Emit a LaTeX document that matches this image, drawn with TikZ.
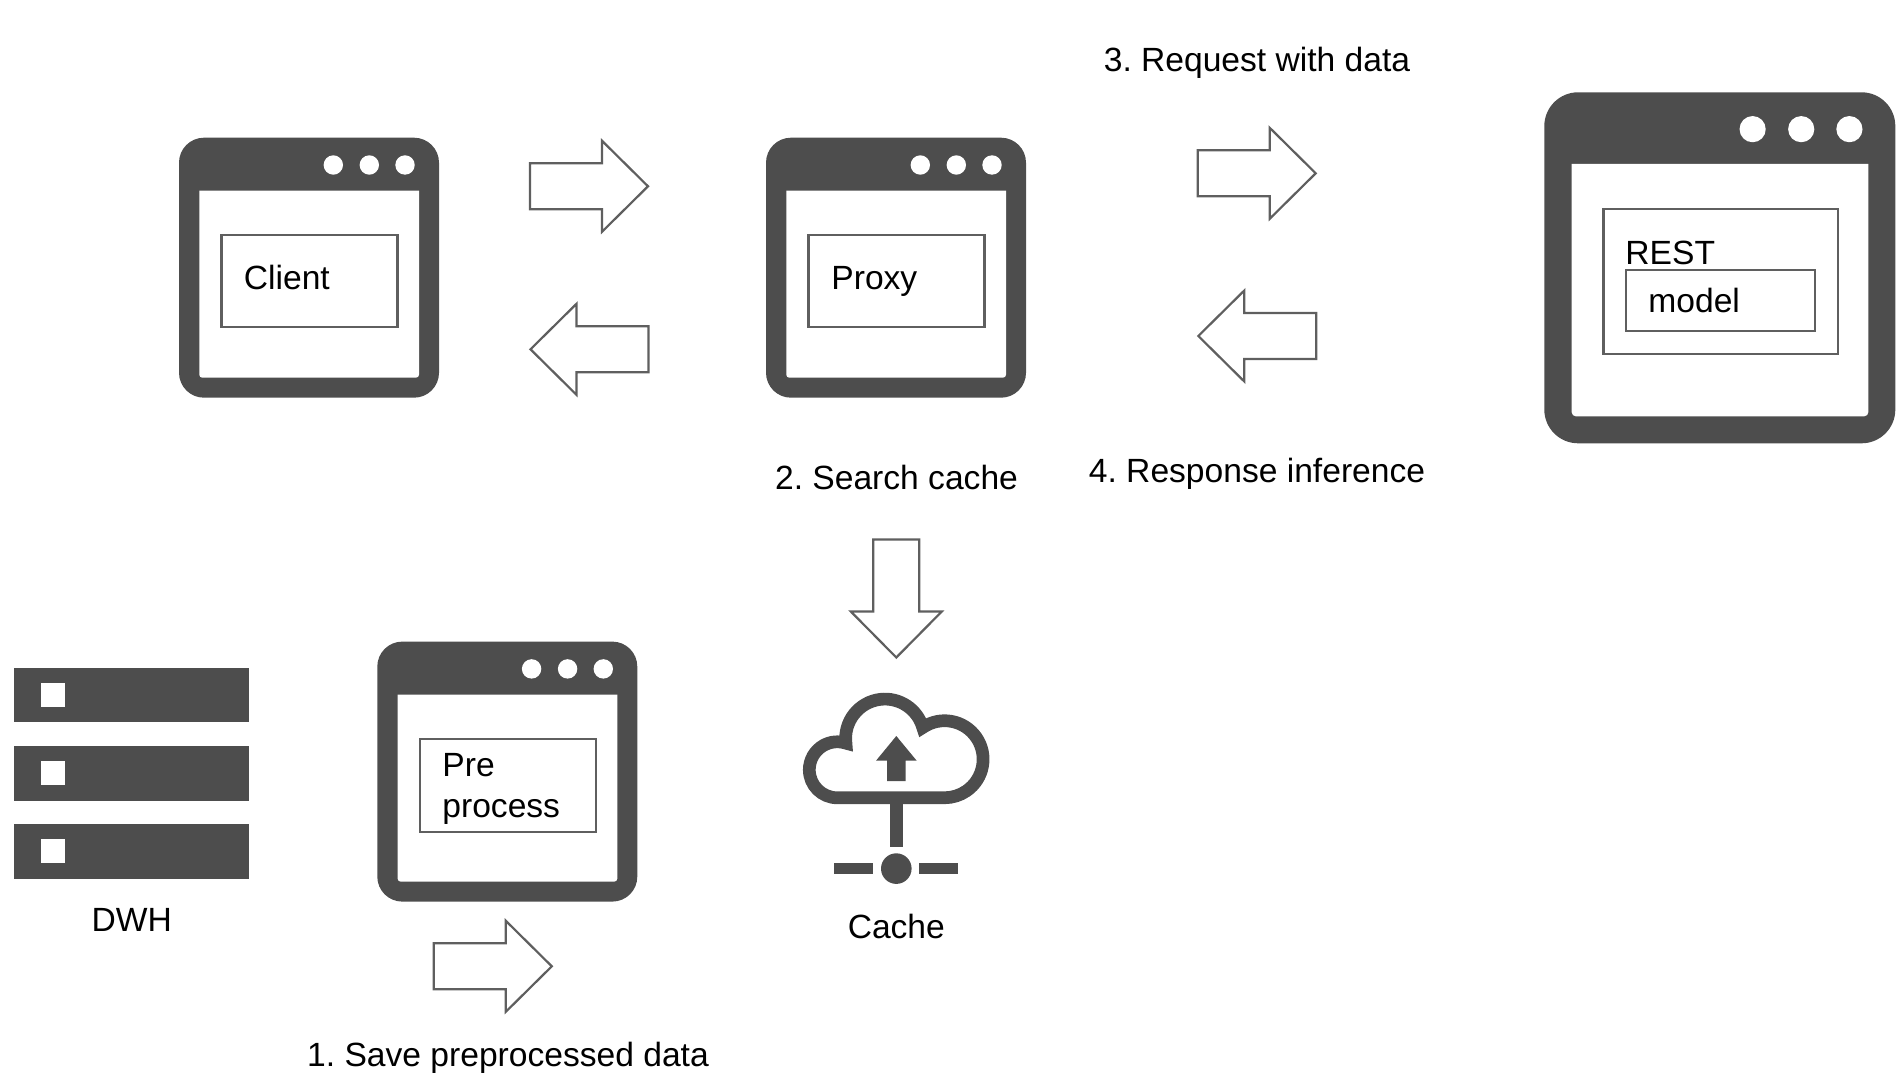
\documentclass[tikz,border=0pt]{standalone}
\usepackage{fontspec}
\setmainfont{Liberation Sans}
\definecolor{icongray}{HTML}{4D4D4D}
\definecolor{linegray}{HTML}{5F5F5F}
\tikzset{
    lbl/.style={inner sep=0pt,font=\fontsize{16.8}{20.5}\selectfont\frenchspacing,text=black},
    framebox/.style={draw=linegray,line width=1.1pt,inner sep=0pt,anchor=north west},
    appwindow/.pic={
        \fill[icongray] (0,25) arc (180:270:25) -- (235,0) arc (270:360:25) -- (260,235)
            arc (0:90:25) -- (25,260) arc (90:180:25) -- cycle;
        \fill[white] (20.3,53) -- (240,53) -- (240,237) arc (0:90:3) -- (23.3,240) arc (90:180:3) -- cycle;
        \fill[white] (154.3,27.3) circle (9.7);
        \fill[white] (190.3,27.3) circle (9.7);
        \fill[white] (226,27.3) circle (9.7);
    },
    blockarrow/.pic={
        \draw[linegray,line width=1.1pt,fill=white] (0,-23) -- (72,-23) -- (72,-45.5) -- (118,0)
            -- (72,45.5) -- (72,23) -- (0,23) -- cycle;
    }
}
\begin{document}
\begin{tikzpicture}[x=0.5pt,y=-0.5pt]
    \useasboundingbox (0,0) rectangle (1904,1080);
    % windows
    \pic at (179,137.7) {appwindow};
    \pic at (766,137.7) {appwindow};
    \pic at (377.3,641.6) {appwindow};
    \pic[scale=1.35] at (1544.3,92.3) {appwindow};
    \node[framebox,minimum width=88pt,minimum height=46.3pt] (clientbox) at (220.3,233.7) {};
    \node[framebox,minimum width=88pt,minimum height=46.3pt] (proxybox) at (807.3,233.7) {};
    \node[framebox,minimum width=88pt,minimum height=46.3pt] (prebox) at (419,738) {};
    \node[framebox,minimum width=117.2pt,minimum height=72.5pt] (restbox) at (1602.3,208.3) {};
    \node[framebox,minimum width=94.3pt,minimum height=30.5pt] (modelbox) at (1625,269.3) {};
    \node[lbl,anchor=base west] (client) at (243.5,289.5) {Client};
    \node[lbl,anchor=base west] (proxy) at (831,289.5) {Proxy};
    \node[lbl,anchor=base west] (rest) at (1625,264.5) {REST};
    \node[lbl,anchor=base west] (model) at (1648,312.5) {model};
    \node[lbl,anchor=north west,align=left] (pre) at (442,752.5) {Pre\\process};
    % block arrows
    \pic at (530,186.3) {blockarrow};
    \pic[rotate=180] at (648.5,349.3) {blockarrow};
    \pic at (1197.7,173.3) {blockarrow};
    \pic[rotate=180] at (1316.3,336) {blockarrow};
    \pic[rotate=-90] at (896.3,539.5) {blockarrow};
    \pic at (433.8,966.3) {blockarrow};
    % server rack
    \fill[icongray] (14.3,667.7) rectangle (248.7,722.3);
    \fill[icongray] (14.3,746) rectangle (248.7,800.7);
    \fill[icongray] (14.3,824) rectangle (248.7,879);
    \fill[white] (41.3,683.3) rectangle (65.3,707);
    \fill[white] (41.3,761.3) rectangle (65.3,785);
    \fill[white] (41.3,839.3) rectangle (65.3,863);
    % cloud
    \draw[icongray,line width=6.35pt] (837.3,797.8) arc (90:288:28) arc (173:344:39.3) arc (235.4:450:38.5) -- cycle;
    \fill[icongray] (896.3,736) -- (916.7,760.7) -- (905.7,760.7) -- (905.7,781) -- (887,781) -- (887,760.7)
        -- (876,760.7) -- cycle;
    \fill[icongray] (890,798) rectangle (902.7,846.7);
    \fill[icongray] (896.3,868.6) circle (15.3);
    \fill[icongray] (834.3,862.6) rectangle (873.3,874.3);
    \fill[icongray] (919,862.6) rectangle (958.3,874.3);
    % labels
    \node[lbl,anchor=base] (dwh) at (131.7,931) {DWH};
    \node[lbl,anchor=base] (cache) at (896.3,938.5) {Cache};
    \node[lbl,anchor=base] (save) at (508,1066) {1. Save preprocessed data};
    \node[lbl,anchor=base] (search) at (896.5,489.5) {2. Search cache};
    \node[lbl,anchor=base] (request) at (1257,71.5) {3. Request with data};
    \node[lbl,anchor=base] (response) at (1257,482) {4. Response inference};
\end{tikzpicture}
\end{document}
